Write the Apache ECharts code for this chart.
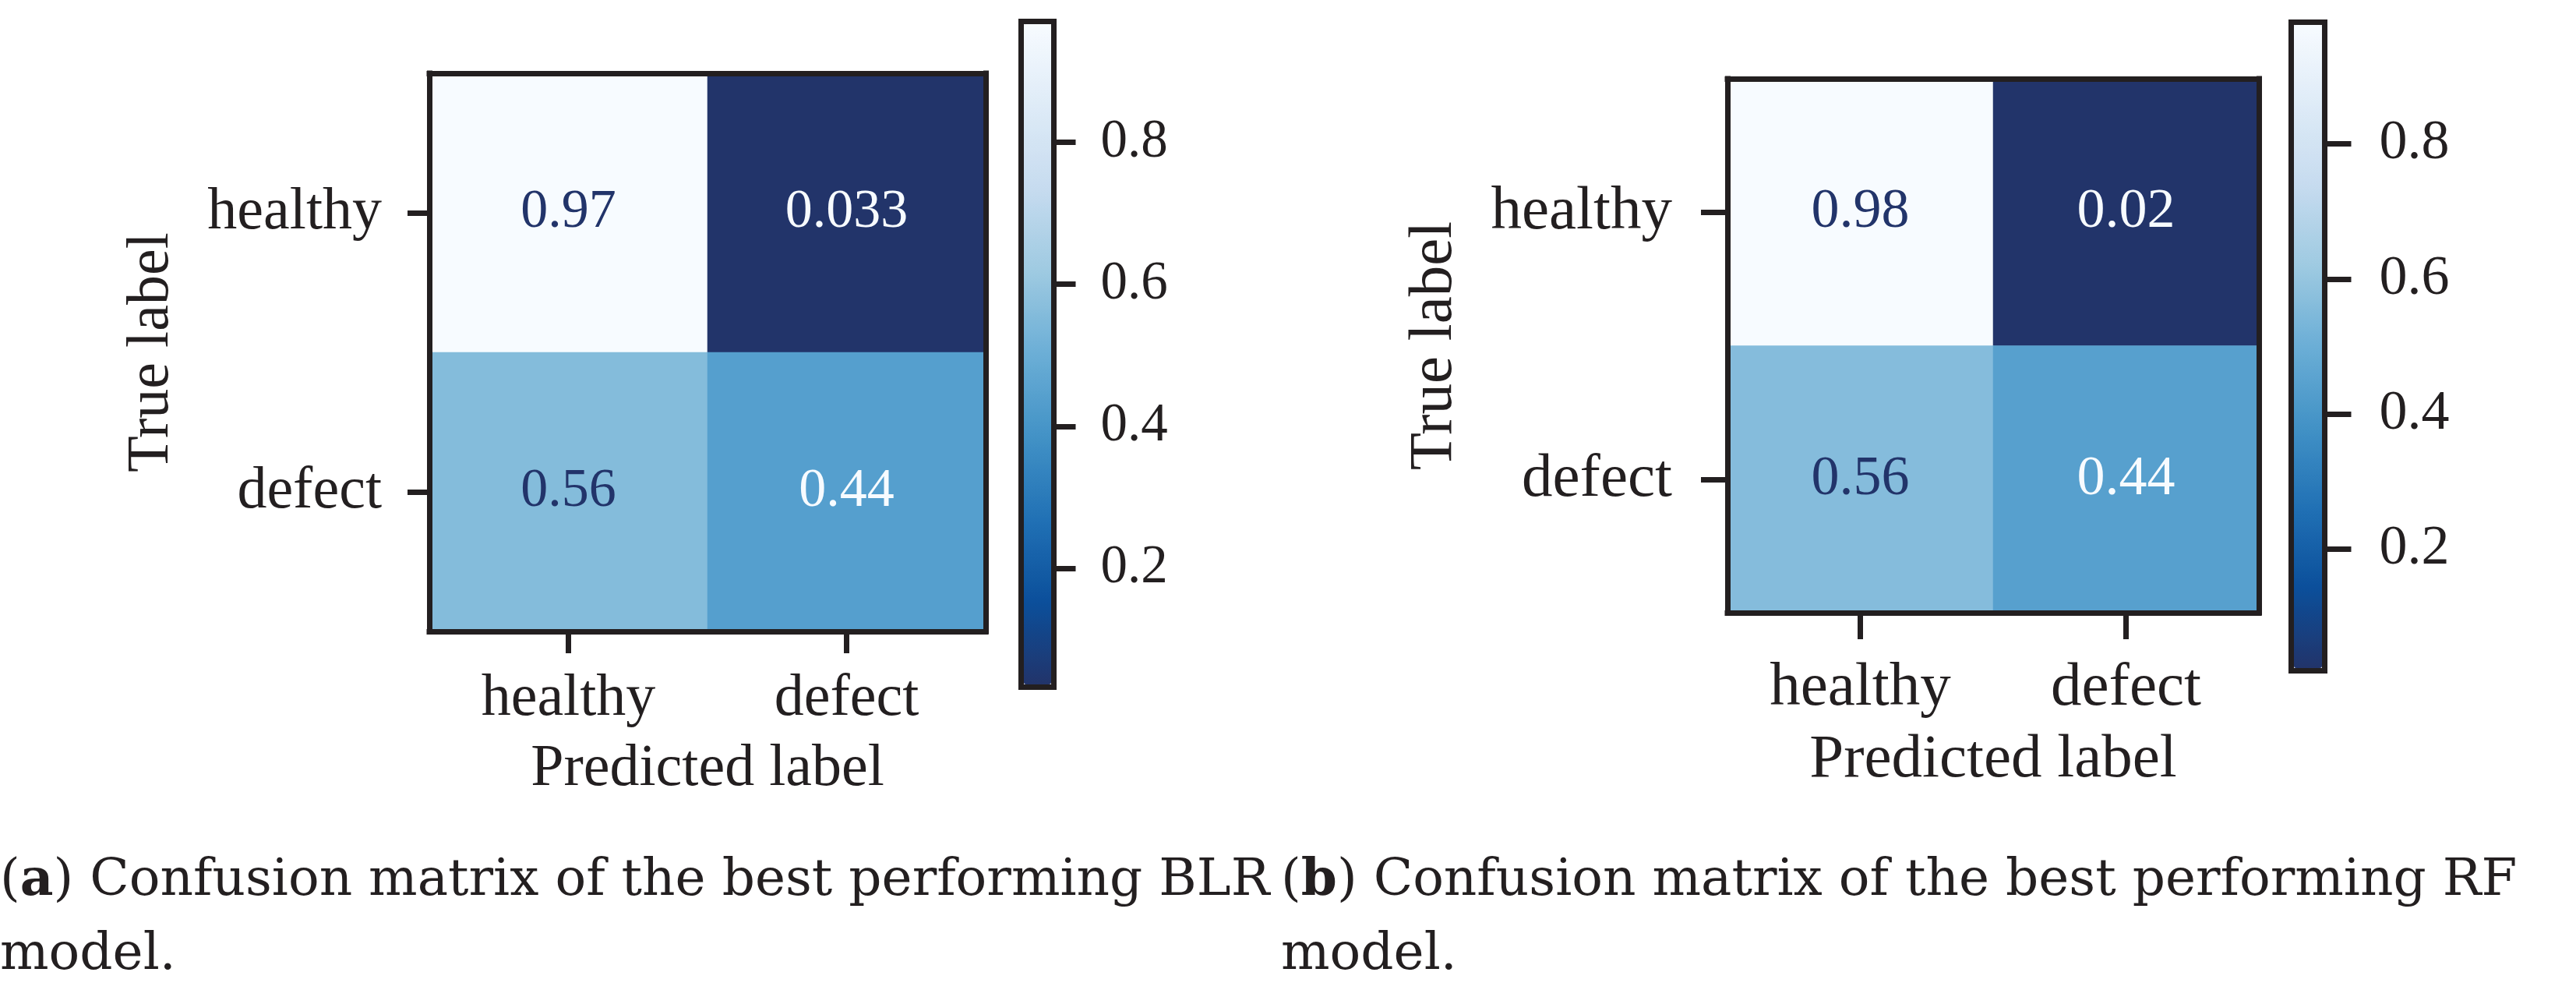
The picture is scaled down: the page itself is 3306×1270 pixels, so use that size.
<!DOCTYPE html>
<html>
<head>
<meta charset="utf-8">
<script src="https://cdn.jsdelivr.net/npm/echarts@6/dist/echarts.min.js"></script>
<style>
html,body{margin:0;padding:0;background:#ffffff;}
#chart{width:3306px;height:1270px;}
</style>
</head>
<body>
<div id="chart"></div>
<script>
// ---------------- data ----------------
const trueLabels = ['healthy', 'defect'];
const predictedLabels = ['healthy', 'defect'];
const blrMatrix = [[0.97, 0.033], [0.56, 0.44]];
const rfMatrix = [[0.98, 0.02], [0.56, 0.44]];
const colorbarTicks = [0.2, 0.4, 0.6, 0.8];
const yAxisName = 'True label';
const xAxisName = 'Predicted label';
const captionA = ['(', 'a', ') Confusion matrix of the best performing BLR', 'model.'];
const captionB = ['(', 'b', ') Confusion matrix of the best performing RF', 'model.'];

// ---------------- style ----------------
const INK = '#231f20';
const BLUES = ['#22346a', '#0b4f9b', '#2171b5', '#4292c6', '#6baed6', '#9ecae1', '#c6dbef', '#deebf7', '#f7fbff'];
const SERIF = '"Liberation Serif", "DejaVu Serif", serif';

const panels = [
  {
    matrix: blrMatrix,
    grid: {left: 551, top: 94, width: 714, height: 716},
    cbGrid: {left: 1310.5, top: 27.5, width: 42, height: 854},
    cbBar: {left: 1314, top: 31, w: 35, h: 847},
    wordSize: 76, numSize: 69, cellSize: 70,
    tickLen: 28, yMargin: 61, xMargin: 49, yNameGap: 318, xNameGap: 139, cbMargin: 60, cbTickLen: 28
  },
  {
    matrix: rfMatrix,
    grid: {left: 2217, top: 101, width: 682, height: 685},
    cbGrid: {left: 2940.5, top: 28.5, width: 43, height: 832},
    cbBar: {left: 2944, top: 32, w: 36, h: 825},
    wordSize: 79, numSize: 72, cellSize: 72,
    tickLen: 34, yMargin: 71, xMargin: 58, yNameGap: 336, xNameGap: 150, cbMargin: 70, cbTickLen: 34
  }
];

const LW = 7;
const lineStyle = {color: INK, width: LW, cap: 'square'};
const tickStyle = {color: INK, width: LW};

const grids = [], xAxes = [], yAxes = [], series = [], visualMaps = [];

panels.forEach(function (p, k) {
  const flat = [].concat.apply([], p.matrix);
  const vmin = Math.min.apply(null, flat);
  const vmax = Math.max.apply(null, flat);
  const thresh = (vmin + vmax) / 2;

  const gi = grids.length;
  grids.push({left: p.grid.left, top: p.grid.top, width: p.grid.width, height: p.grid.height, containLabel: false});
  const ci = grids.length;
  grids.push({left: p.cbGrid.left, top: p.cbGrid.top, width: p.cbGrid.width, height: p.cbGrid.height, containLabel: false});

  const xMain = xAxes.length;
  xAxes.push({
    type: 'category', gridIndex: gi, data: predictedLabels, position: 'bottom', z: 10,
    axisLine: {show: true, lineStyle: lineStyle},
    axisTick: {show: true, alignWithLabel: true, length: p.tickLen, lineStyle: tickStyle},
    axisLabel: {show: true, margin: p.xMargin, color: INK, fontFamily: SERIF, fontSize: p.wordSize},
    splitLine: {show: false},
    name: xAxisName, nameLocation: 'middle', nameGap: p.xNameGap,
    nameTextStyle: {color: INK, fontFamily: SERIF, fontSize: p.wordSize}
  });
  xAxes.push({
    type: 'category', gridIndex: gi, data: predictedLabels, position: 'top', z: 10,
    axisLine: {show: true, lineStyle: lineStyle}, axisTick: {show: false}, axisLabel: {show: false}, splitLine: {show: false}
  });
  const yMain = yAxes.length;
  yAxes.push({
    type: 'category', gridIndex: gi, data: trueLabels, inverse: true, position: 'left', z: 10,
    axisLine: {show: true, lineStyle: lineStyle},
    axisTick: {show: true, alignWithLabel: true, length: p.tickLen, lineStyle: tickStyle},
    axisLabel: {show: true, margin: p.yMargin, color: INK, fontFamily: SERIF, fontSize: p.wordSize},
    splitLine: {show: false},
    name: yAxisName, nameLocation: 'middle', nameGap: p.yNameGap, nameRotate: 90,
    nameTextStyle: {color: INK, fontFamily: SERIF, fontSize: p.wordSize}
  });
  yAxes.push({
    type: 'category', gridIndex: gi, data: trueLabels, inverse: true, position: 'right', z: 10,
    axisLine: {show: true, lineStyle: lineStyle}, axisTick: {show: false}, axisLabel: {show: false}, splitLine: {show: false}
  });

  xAxes.push({
    type: 'value', gridIndex: ci, min: 0, max: 1, position: 'bottom', z: 10,
    axisLine: {show: true, onZero: false, lineStyle: lineStyle}, axisTick: {show: false}, axisLabel: {show: false}, splitLine: {show: false}
  });
  xAxes.push({
    type: 'value', gridIndex: ci, min: 0, max: 1, position: 'top', z: 10,
    axisLine: {show: true, onZero: false, lineStyle: lineStyle}, axisTick: {show: false}, axisLabel: {show: false}, splitLine: {show: false}
  });
  yAxes.push({
    type: 'value', gridIndex: ci, min: vmin, max: vmax, position: 'right', z: 10,
    axisLine: {show: true, onZero: false, lineStyle: lineStyle},
    axisTick: {show: true, length: p.cbTickLen, lineStyle: tickStyle, customValues: colorbarTicks},
    axisLabel: {show: true, margin: p.cbMargin, color: INK, fontFamily: SERIF, fontSize: p.numSize,
      customValues: colorbarTicks, formatter: function (v) { return Number(v).toFixed(1); }},
    splitLine: {show: false}
  });
  yAxes.push({
    type: 'value', gridIndex: ci, min: vmin, max: vmax, position: 'left', z: 10,
    axisLine: {show: true, onZero: false, lineStyle: lineStyle}, axisTick: {show: false}, axisLabel: {show: false}, splitLine: {show: false}
  });

  const data = [];
  p.matrix.forEach(function (row, i) {
    row.forEach(function (v, j) {
      data.push({
        value: [j, i, v],
        label: {color: v < thresh ? BLUES[BLUES.length - 1] : BLUES[0]}
      });
    });
  });

  const si = series.length;
  series.push({
    type: 'heatmap', xAxisIndex: xMain, yAxisIndex: yMain, data: data,
    label: {show: true, fontFamily: SERIF, fontSize: p.cellSize, fontWeight: 'normal',
      formatter: function (prm) { return String(prm.value[2]); }},
    itemStyle: {borderWidth: 0},
    emphasis: {disabled: true}
  });

  visualMaps.push({
    type: 'continuous', seriesIndex: si, dimension: 2, min: vmin, max: vmax,
    calculable: false, hoverLink: false, orient: 'vertical',
    left: p.cbBar.left, top: p.cbBar.top, itemWidth: p.cbBar.w, itemHeight: p.cbBar.h,
    padding: 0, text: null, showLabel: false,
    inRange: {color: BLUES}
  });
});

function caption(parts) {
  return parts[0] + '{b|' + parts[1] + '}' + parts[2] + '\n' + parts[3];
}
const CAPFONT = '"DejaVu Serif", serif';
const capStyle = {fontFamily: CAPFONT, fontSize: 66, fontWeight: 'normal', color: INK, lineHeight: 95,
  rich: {b: {fontFamily: CAPFONT, fontSize: 66, fontWeight: 'bold', color: INK, lineHeight: 95}}};

const option = {
  backgroundColor: '#ffffff',
  animation: false,
  title: [
    {text: caption(captionA), left: 0, top: 1083, padding: 0, textStyle: capStyle},
    {text: caption(captionB), left: 1644, top: 1083, padding: 0, textStyle: capStyle}
  ],
  grid: grids,
  xAxis: xAxes,
  yAxis: yAxes,
  visualMap: visualMaps,
  series: series
};

const chart = echarts.init(document.getElementById('chart'), null, {renderer: 'canvas'});
chart.setOption(option);
</script>
</body>
</html>
